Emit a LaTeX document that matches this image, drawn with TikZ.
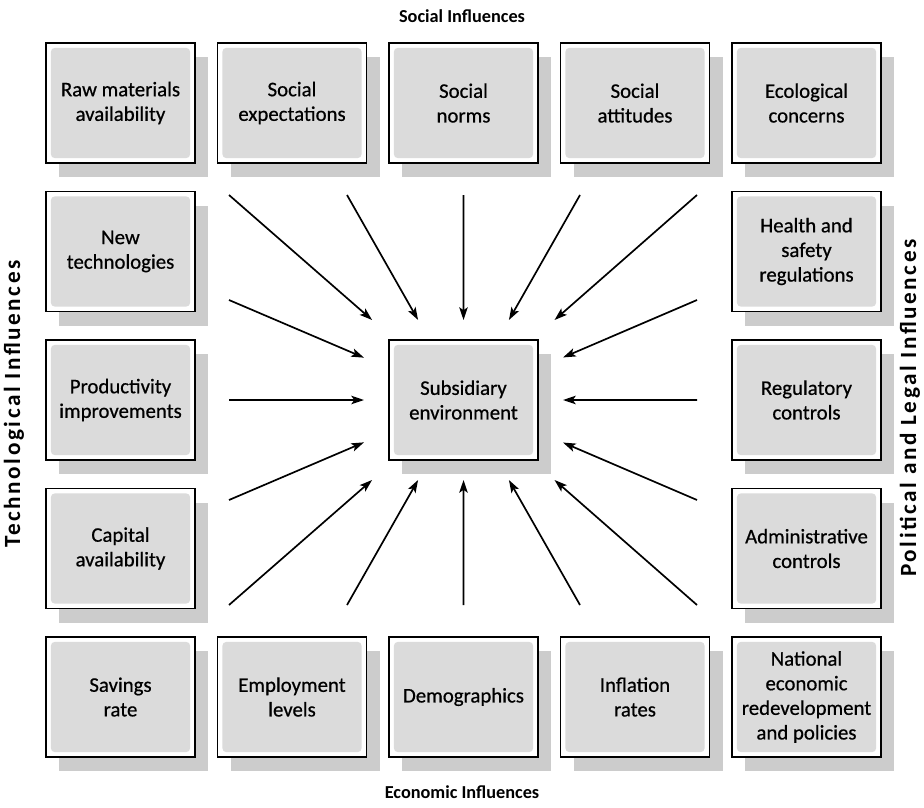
\documentclass[tikz,border=0pt]{standalone}
\usepackage{fontspec}
\setmainfont{Carlito}
\newfontfamily\boxfont{Carlito}[FakeBold=0.6]
\newfontfamily\sidefont{Carlito}[LetterSpace=11]
\usetikzlibrary{arrows.meta,positioning,shadows}

\begin{document}
\begin{tikzpicture}[>={Stealth[length=9pt,width=6pt,inset=2pt]},
    node distance=0.7125cm and 0.5625cm,
    box/.style={draw=black, line width=1.4pt, fill=white, outer sep=0pt,
                minimum width=3.725cm, minimum height=3cm, align=center,
                font=\boxfont\fontsize{14.8}{17.5}\selectfont,
                drop shadow={shadow xshift=0.33cm, shadow yshift=-0.36cm,
                             fill=black!20, opacity=1},
                path picture={\fill[black!14, rounded corners=3pt]
                  ([shift={(0.12cm,-0.12cm)}]path picture bounding box.north west) rectangle
                  ([shift={(-0.12cm,0.12cm)}]path picture bounding box.south east);}},
    title/.style={font=\fontsize{13}{15}\selectfont\bfseries},
    sidetitle/.style={font=\sidefont\fontsize{16.5}{19}\selectfont\bfseries, rotate=90},
    influence/.style={line width=1.2pt, ->}]
  \useasboundingbox (0,0) rectangle (23.1,-20.175);

  % top row
  \node[box] (raw) at (3.0125,-2.575) {Raw materials\\availability};
  \node[box, right=of raw] (socexp) {Social\\expectations};
  \node[box, right=of socexp] (socnorm) {Social\\norms};
  \node[box, right=of socnorm] (socatt) {Social\\attitudes};
  \node[box, right=of socatt] (eco) {Ecological\\concerns};

  % left column
  \node[box, below=of raw] (newtech) {New\\technologies};
  \node[box, below=of newtech] (prod) {Productivity\\improvements};
  \node[box, below=of prod] (capital) {Capital\\availability};

  % right column
  \node[box, below=of eco] (health) {Health and\\safety\\regulations};
  \node[box, below=of health] (reg) {Regulatory\\controls};
  \node[box, below=of reg] (admin) {Administrative\\controls};

  % bottom row
  \node[box, below=of capital] (savings) {Savings\\rate};
  \node[box, right=of savings] (employ) {Employment\\levels};
  \node[box, right=of employ] (demog) {Demographics};
  \node[box, right=of demog] (inflation) {Inflation\\rates};
  \node[box, right=of inflation] (national) {National\\economic\\redevelopment\\and policies};

  % centre
  \node[box, outer xsep=0.625cm, outer ysep=0.5cm] (hub) at (demog |- prod)
    {Subsidiary\\environment};

  % group titles
  \node[title] (social) at (11.55,-0.4) {Social Influences};
  \node[title] (economic) at (11.55,-19.8) {Economic Influences};
  \node[sidetitle] (techn) at (0.35,-10.1) {Technological Influences};
  \node[sidetitle] (polit) at (22.75,-10.2) {Political and Legal Influences};

  % arrow tails
  \coordinate (t1) at (5.725,-4.875);
  \coordinate (t2) at (8.675,-4.875);
  \coordinate (t3) at (11.5875,-4.875);
  \coordinate (t4) at (14.5,-4.875);
  \coordinate (t5) at (17.425,-4.875);
  \coordinate (l1) at (5.725,-7.5);
  \coordinate (l2) at (5.725,-10);
  \coordinate (l3) at (5.725,-12.5);
  \coordinate (r1) at (17.425,-7.5);
  \coordinate (r2) at (17.425,-10);
  \coordinate (r3) at (17.425,-12.5);
  \coordinate (b1) at (5.725,-15.125);
  \coordinate (b2) at (8.675,-15.125);
  \coordinate (b3) at (11.5875,-15.125);
  \coordinate (b4) at (14.5,-15.125);
  \coordinate (b5) at (17.425,-15.125);

  \foreach \p in {t1,t2,t3,t4,t5,l1,l2,l3,r1,r2,r3,b1,b2,b3,b4,b5}
    \draw[influence] (\p) -- (hub);
\end{tikzpicture}
\end{document}
